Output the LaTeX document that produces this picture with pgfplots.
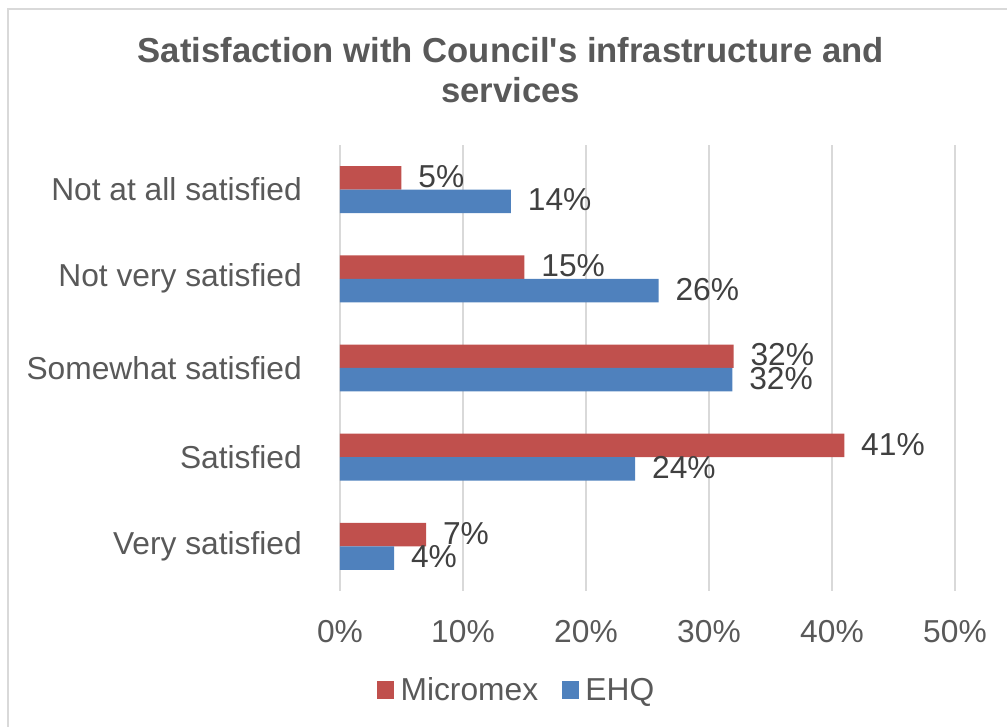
\documentclass[border=0pt]{standalone}
\usepackage{pgfplots}
\pgfplotsset{compat=1.18}
\usepackage{fontspec}
\setmainfont{Liberation Sans}
\definecolor{mred}{HTML}{C0504D}
\definecolor{mblue}{HTML}{4F81BD}
\definecolor{gridc}{HTML}{D9D9D9}
\definecolor{txt}{HTML}{595959}
\definecolor{lbl}{HTML}{404040}
\begin{document}
\begin{tikzpicture}
\useasboundingbox (0,0) rectangle (755.25pt,545.25pt);
\draw[gridc, line width=1.6pt] (6pt,0pt) -- (6pt,538.5pt) -- (756pt,538.5pt);
\node[align=center, text=txt, font=\fontsize{26}{30}\selectfont\bfseries, inner sep=0pt] at (383pt,492.5pt) {Satisfaction with Council\textquotesingle s infrastructure and\\services};
\begin{axis}[
  at={(255pt,102pt)}, anchor=south west,
  scale only axis, width=461.25pt, height=334.5pt,
  xmin=0, xmax=50, ymin=-0.5, ymax=4.5,
  xtick={0,10,20,30,40,50},
  xticklabels={0\%,10\%,20\%,30\%,40\%,50\%},
  ytick={0,1,2,3,4},
  yticklabels={Very satisfied,Satisfied,Somewhat satisfied,Not very satisfied,Not at all satisfied},
  major tick length=0pt,
  axis line style={draw=none},
  xmajorgrids, grid style={gridc, line width=1.2pt},
  tick label style={text=txt, font=\fontsize{23.8}{28}\selectfont, inner sep=0pt},
  yticklabel style={anchor=east, xshift=-28.5pt},
  xticklabel style={anchor=north, yshift=-22pt},
  /pgf/number format/assume math mode=true,
  xbar, bar width=0.263,
  nodes near coords={\pgfmathprintnumber[fixed,precision=0]{\pgfplotspointmeta}\%},
  nodes near coords style={anchor=west, xshift=12.5pt, yshift=1pt, inner sep=0pt, text=lbl, font=\fontsize{23.8}{28}\selectfont},
  legend columns=2,
  legend style={at={(0.288,-0.222)}, anchor=center, draw=none, fill=none,
    font=\fontsize{23.8}{28}\selectfont, text=txt,
    /tikz/every even column/.append style={column sep=16pt}},
  legend image code/.code={\fill[#1] (0pt,-6.4pt) rectangle (12.8pt,6.4pt); \path (15.5pt,0pt);},
  clip=false,
]
\addplot[fill=mred, draw=none, bar shift=0.1315] coordinates {(7,0) (41,1) (32,2) (15,3) (5,4)};
\addlegendentry{Micromex}
\addplot[fill=mblue, draw=none, bar shift=-0.1315] coordinates {(4.4,0) (24,1) (31.9,2) (25.9,3) (13.9,4)};
\addlegendentry{EHQ}
\end{axis}
\end{tikzpicture}
\end{document}
